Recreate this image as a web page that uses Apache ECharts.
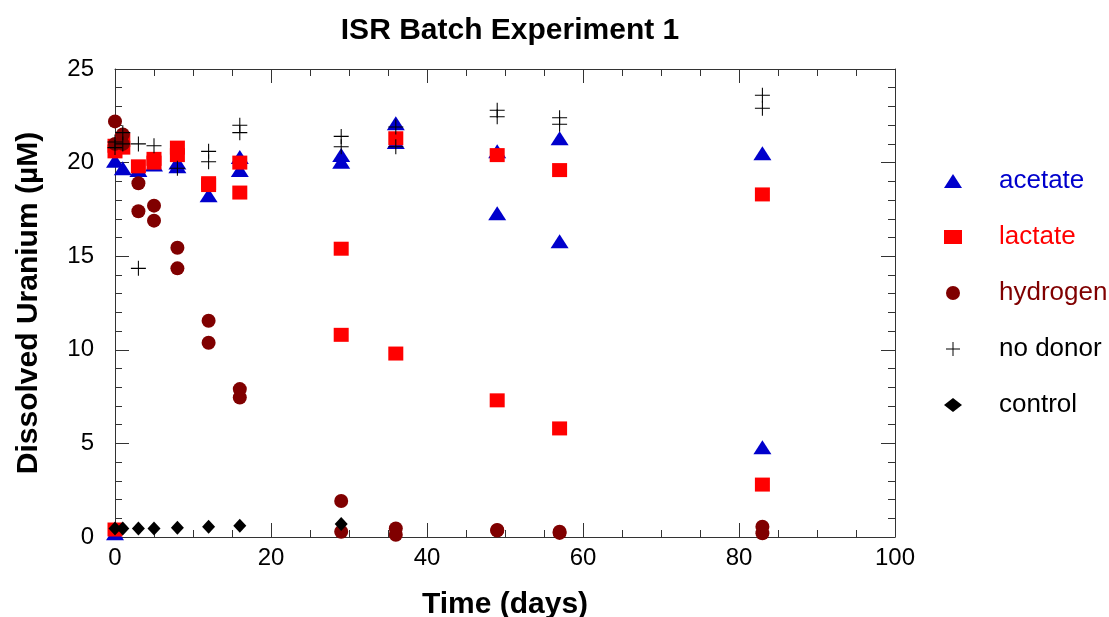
<!DOCTYPE html>
<html>
<head>
<meta charset="utf-8">
<script src="https://cdn.jsdelivr.net/npm/echarts@6/dist/echarts.min.js"></script>
<style>
html,body{margin:0;padding:0;background:#fff;}
#chart{width:1109px;height:617px;}
</style>
</head>
<body>
<div id="chart"></div>
<script>
// ---- data (day, dissolved uranium µM) ----
const acetate = [[0,0.2],[0,20.1],[1,19.7],[3,19.6],[5,19.9],[8,19.8],[8,20.0],[12,18.25],[16,20.3],[16,19.6],[29,20.4],[29,20.05],[36,22.1],[36,21.1],[49,20.6],[49,17.3],[57,21.3],[57,15.8],[83,20.5],[83,4.8]];
const lactate = [[0,0.4],[0,20.9],[0,20.6],[1,20.8],[1,21.2],[3,19.8],[5,20.0],[5,20.2],[8,20.8],[8,20.4],[12,18.9],[12,18.8],[16,20.0],[16,18.4],[29,15.4],[29,10.8],[36,21.3],[36,9.8],[49,20.4],[49,7.3],[57,19.6],[57,5.8],[83,18.3],[83,2.8]];
const hydrogen = [[0,22.2],[0,21.0],[1,21.5],[1,21.0],[3,18.9],[3,17.4],[5,17.7],[5,16.9],[8,15.45],[8,14.35],[12,11.55],[12,10.38],[16,7.9],[16,7.45],[29,1.92],[29,0.28],[36,0.46],[36,0.12],[49,0.37],[49,0.35],[57,0.28],[57,0.22],[83,0.55],[83,0.2]];
const noDonor = [[0,21.1],[0,20.8],[1,21.6],[1,21.0],[3,21.0],[3,14.35],[5,20.9],[8,19.7],[12,20.6],[12,20.05],[16,22.0],[16,21.6],[29,21.4],[29,20.85],[36,21.9],[36,20.85],[49,22.8],[49,22.45],[57,22.4],[57,22.05],[83,23.6],[83,22.9]];
const control = [[0,0.45],[1,0.45],[3,0.45],[5,0.45],[8,0.5],[12,0.55],[16,0.6],[29,0.69]];
const seriesNames = ['acetate','lactate','hydrogen','no donor','control'];
const xTicks = {min:0, max:100, interval:20};
const yTicks = {min:0, max:25, interval:5};

const FONT = '"Liberation Sans", Arial, Helvetica, sans-serif';
const crossPath = 'path://M0,9.3H20V10.7H0Z M9.3,0H10.7V20H9.3Z';
const colors = ['#0000cc','#ff0000','#800000','#000000','#000000'];
const axisLine = {show:true, onZero:false, lineStyle:{color:'#333', width:1}};

function xAxis(pos, labels){
  return {type:'value', position:pos, min:xTicks.min, max:xTicks.max, interval:xTicks.interval,
    axisLine:axisLine, axisTick:{show:true, inside:true, length:14, lineStyle:{color:'#333'}},
    minorTick:{show:true, splitNumber:4, length:7, lineStyle:{color:'#333'}},
    splitLine:{show:false}, minorSplitLine:{show:false},
    axisLabel:{show:labels, fontSize:24, color:'#000', fontFamily:FONT, margin:9},
    name: labels ? 'Time (days)' : '', nameLocation:'middle', nameGap:53,
    nameTextStyle:{fontSize:30, fontWeight:'bold', color:'#000', fontFamily:FONT}};
}
function yAxis(pos, labels){
  return {type:'value', position:pos, min:yTicks.min, max:yTicks.max, interval:yTicks.interval,
    axisLine:axisLine, axisTick:{show:true, inside:true, length:14, lineStyle:{color:'#333'}},
    minorTick:{show:true, splitNumber:5, length:7, lineStyle:{color:'#333'}},
    splitLine:{show:false}, minorSplitLine:{show:false},
    axisLabel:{show:labels, fontSize:24, color:'#000', fontFamily:FONT, margin:21},
    name: labels ? 'Dissolved Uranium (\u00b5M)' : '', nameLocation:'middle', nameGap:71,
    nameTextStyle:{fontSize:30, fontWeight:'bold', color:'#000', fontFamily:FONT}};
}

const symbols = ['triangle','rect','circle',crossPath,'diamond'];
const sizes = [[18,14],[15,14],14,15,[13,14]];
const datas = [acetate, lactate, hydrogen, noDonor, control];

const chart = echarts.init(document.getElementById('chart'), null, {renderer:'canvas'});
chart.setOption({
  animation:false,
  backgroundColor:'#fff',
  title:{text:'ISR Batch Experiment 1', left:505, textAlign:'center', top:11,
    textStyle:{fontSize:30, fontWeight:'bold', color:'#000', fontFamily:FONT}},
  grid:{left:115, right:214, top:69, bottom:80, containLabel:false, outerBoundsMode:'none'},
  xAxis:[xAxis('bottom', true), xAxis('top', false)],
  yAxis:[yAxis('left', true), yAxis('right', false)],
  legend:{orient:'vertical', left:939, top:163, itemWidth:18, itemHeight:14, itemGap:30,
    selectedMode:false,
    formatter: n => '{g| }{t|' + n + '}',
    textStyle:{fontSize:26, fontFamily:FONT,
      rich:{g:{width:32, fontSize:26}, t:{fontSize:26, fontFamily:FONT}}},
    data: seriesNames.map((n,i)=>({name:n, textStyle:{color:colors[i]}}))},
  series: seriesNames.map((n,i)=>({
    name:n, type:'scatter', xAxisIndex:0, yAxisIndex:0,
    symbol:symbols[i], symbolSize:sizes[i], symbolKeepAspect:true,
    itemStyle:{color:colors[i], opacity:1},
    emphasis:{disabled:true},
    data:datas[i]
  }))
});
</script>
</body>
</html>
